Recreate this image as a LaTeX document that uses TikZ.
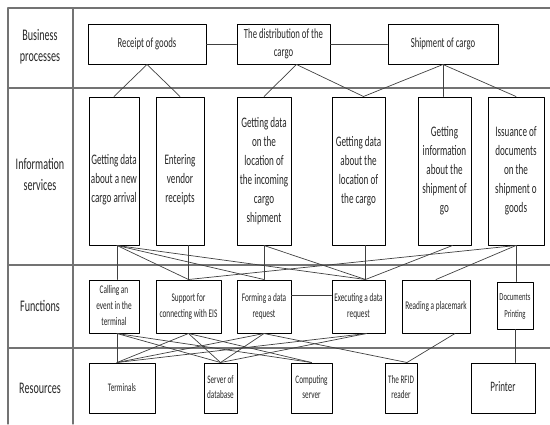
\documentclass[tikz,border=0pt]{standalone}
\usepackage{fontspec}
\setmainfont{Carlito}
\usepackage{graphicx}
\usetikzlibrary{positioning}

\newcommand{\boxtext}[3]{\scalebox{1}[1.6]{\fontsize{#1}{#2}\selectfont\begin{tabular}{@{}c@{}}#3\end{tabular}}}

\begin{document}
\begin{tikzpicture}[line cap=round,line join=round,x=1pt,y=-1pt,
  lane/.style={line width=1.3pt,black!55},
  box/.style={draw,line width=1pt,inner sep=0pt,text=black!85},
  link/.style={line width=0.7pt,black!75}]
\useasboundingbox (0,0) rectangle (550,424);
\draw [lane] (8,424)-- (8,8)-- (550,8);
\draw [lane] (73,8)-- (73,424);
\draw [lane] (8,88)-- (550,88);
\draw [lane] (8,265)-- (550,265);
\draw [lane] (8,348)-- (550,348);
\node [text=black!85] (lbp) at (40,47) {\boxtext{10.1}{13.1}{Business\\processes}};
\node [text=black!85] (lis) at (40,176) {\boxtext{10.1}{13.1}{Information\\services}};
\node [text=black!85] (lfn) at (40,307) {\boxtext{10.1}{13.1}{Functions}};
\node [text=black!85] (lrs) at (40,389) {\boxtext{10.1}{13.1}{Resources}};
\node [box,minimum width=118pt,minimum height=40pt] (bp1) at (147,44) {\boxtext{8.7}{11.5}{Receipt of goods}};
\node [box,minimum width=93pt,minimum height=40pt] (bp2) at (283.5,44) {\boxtext{8.7}{11.5}{The distribution of the\\cargo}};
\node [box,minimum width=110pt,minimum height=40pt] (bp3) at (443,44) {\boxtext{8.7}{11.5}{Shipment of cargo}};
\node [box,minimum width=50pt,minimum height=148pt] (is1) at (114,171) {\raisebox{-9pt}[\height][\depth]{\boxtext{9.1}{11.9}{Getting data\\about a new\\cargo arrival}}};
\node [box,minimum width=48pt,minimum height=148pt] (is2) at (180,171) {\raisebox{-9pt}[\height][\depth]{\boxtext{9.1}{11.9}{Entering\\vendor\\receipts}}};
\node [box,minimum width=54pt,minimum height=148pt] (is3) at (264,171) {\boxtext{9.1}{11.9}{Getting data\\on the\\location of\\the incoming\\cargo\\shipment}};
\node [box,minimum width=53pt,minimum height=148pt] (is4) at (358.5,171) {\boxtext{9.1}{11.9}{Getting data\\about the\\location of\\the cargo}};
\node [box,minimum width=53pt,minimum height=148pt] (is5) at (444.5,171) {\boxtext{9.1}{11.9}{Getting\\information\\about the\\shipment of\\go}};
\node [box,minimum width=56pt,minimum height=148pt] (is6) at (516,171) {\boxtext{9.1}{11.9}{Issuance of\\documents\\on the\\shipment o\\goods}};
\node [box,minimum width=50pt,minimum height=53pt] (f1) at (114,306.5) {\boxtext{7.3}{9.8}{Calling an\\event in the\\terminal}};
\node [box,minimum width=65pt,minimum height=53pt] (f2) at (188.5,306.5) {\boxtext{7.3}{9.8}{Support for\\connecting with EIS}};
\node [box,minimum width=54pt,minimum height=53pt] (f3) at (264,306.5) {\boxtext{7.3}{9.8}{Forming a data\\request}};
\node [box,minimum width=53pt,minimum height=53pt] (f4) at (358.5,306.5) {\boxtext{7.3}{9.8}{Executing a data\\request}};
\node [box,minimum width=68pt,minimum height=53pt] (f5) at (436,306.5) {\boxtext{7.3}{9.8}{Reading a placemark}};
\node [box,minimum width=36pt,minimum height=47pt] (f6) at (515,305.5) {\boxtext{6.7}{10.4}{Documents\\Printing}};
\node [box,minimum width=66pt,minimum height=50pt] (r1) at (122,388) {\boxtext{7.2}{9.4}{Terminals}};
\node [box,minimum width=33pt,minimum height=50pt] (r2) at (220.5,388) {\boxtext{7.2}{9.4}{Server of\\database}};
\node [box,minimum width=41pt,minimum height=50pt] (r3) at (311.5,388) {\boxtext{7.2}{9.4}{Computing\\server}};
\node [box,minimum width=32pt,minimum height=50pt] (r4) at (401,388) {\boxtext{7.2}{9.4}{The RFID\\reader}};
\node [box,minimum width=64pt,minimum height=50pt] (r5) at (503,388) {\boxtext{9}{11}{Printer}};
\draw [link] (bp1) -- (bp2);
\draw [link] (bp2) -- (bp3);
\draw [link] (bp1.south) -- (is1.north);
\draw [link] (bp1.south) -- (is2.north);
\draw [link] ([xshift=13pt]bp2.south) -- (is3.north);
\draw [link] ([xshift=13pt]bp2.south) -- ([xshift=5pt]is4.north);
\draw [link] (bp3.south) -- ([xshift=5pt]is4.north);
\draw [link] (bp3.south) -- (bp3.south |- is5.north);
\draw [link] (bp3.south) -- (is6.north);
\draw [link] ([xshift=3pt]is1.south) -- ([xshift=3pt]f1.north);
\draw [link] ([xshift=3pt]is1.south) -- (f2.north);
\draw [link] ([xshift=3pt]is1.south) -- (f3.north);
\draw [link] ([xshift=3pt]is1.south) -- ([xshift=7pt]f4.north);
\draw [link] (is2.south -| f2.north) -- (f2.north);
\draw [link] (is3.south) -- (f3.north);
\draw [link] (is3.south) -- ([xshift=7pt]f4.north);
\draw [link] ([xshift=7pt]is4.south) -- ([xshift=7pt]f4.north);
\draw [link] ([xshift=8pt]is5.south) -- ([xshift=7pt]f4.north);
\draw [link] (is6.south) -- (f2.north);
\draw [link] (is6.south) -- (f5.north);
\draw [link] (is6.south) -- (is6.south |- f6.north);
\coordinate (rt) at ([xshift=3pt]f1.south |- r1.north);
\draw [link] ([xshift=3pt]f1.south) -- (rt);
\draw [link] ([xshift=3pt]f1.south) -- (r2.north);
\draw [link] ([xshift=3pt]f1.south) -- (r3.north);
\draw [link] (f2.south) -- (rt);
\draw [link] (f2.south) -- (r2.north);
\draw [link] (f2.south) -- (r3.north);
\draw [link] (f3.south) -- (rt);
\draw [link] (f3.south) -- (r2.north);
\draw [link] (f3.south) -- ([xshift=6pt]r4.north);
\draw [link] ([yshift=11.5pt]f3.east) -- ([yshift=11.5pt]f4.west);
\draw [link] ([xshift=8pt]f4.south) -- (rt);
\draw [link] ([xshift=8pt]f4.south) -- (r2.north);
\draw [link] ([xshift=19pt]f5.south) -- ([xshift=6pt]r4.north);
\draw [link] (f6.south) -- (f6.south |- r5.north);
\end{tikzpicture}
\end{document}
